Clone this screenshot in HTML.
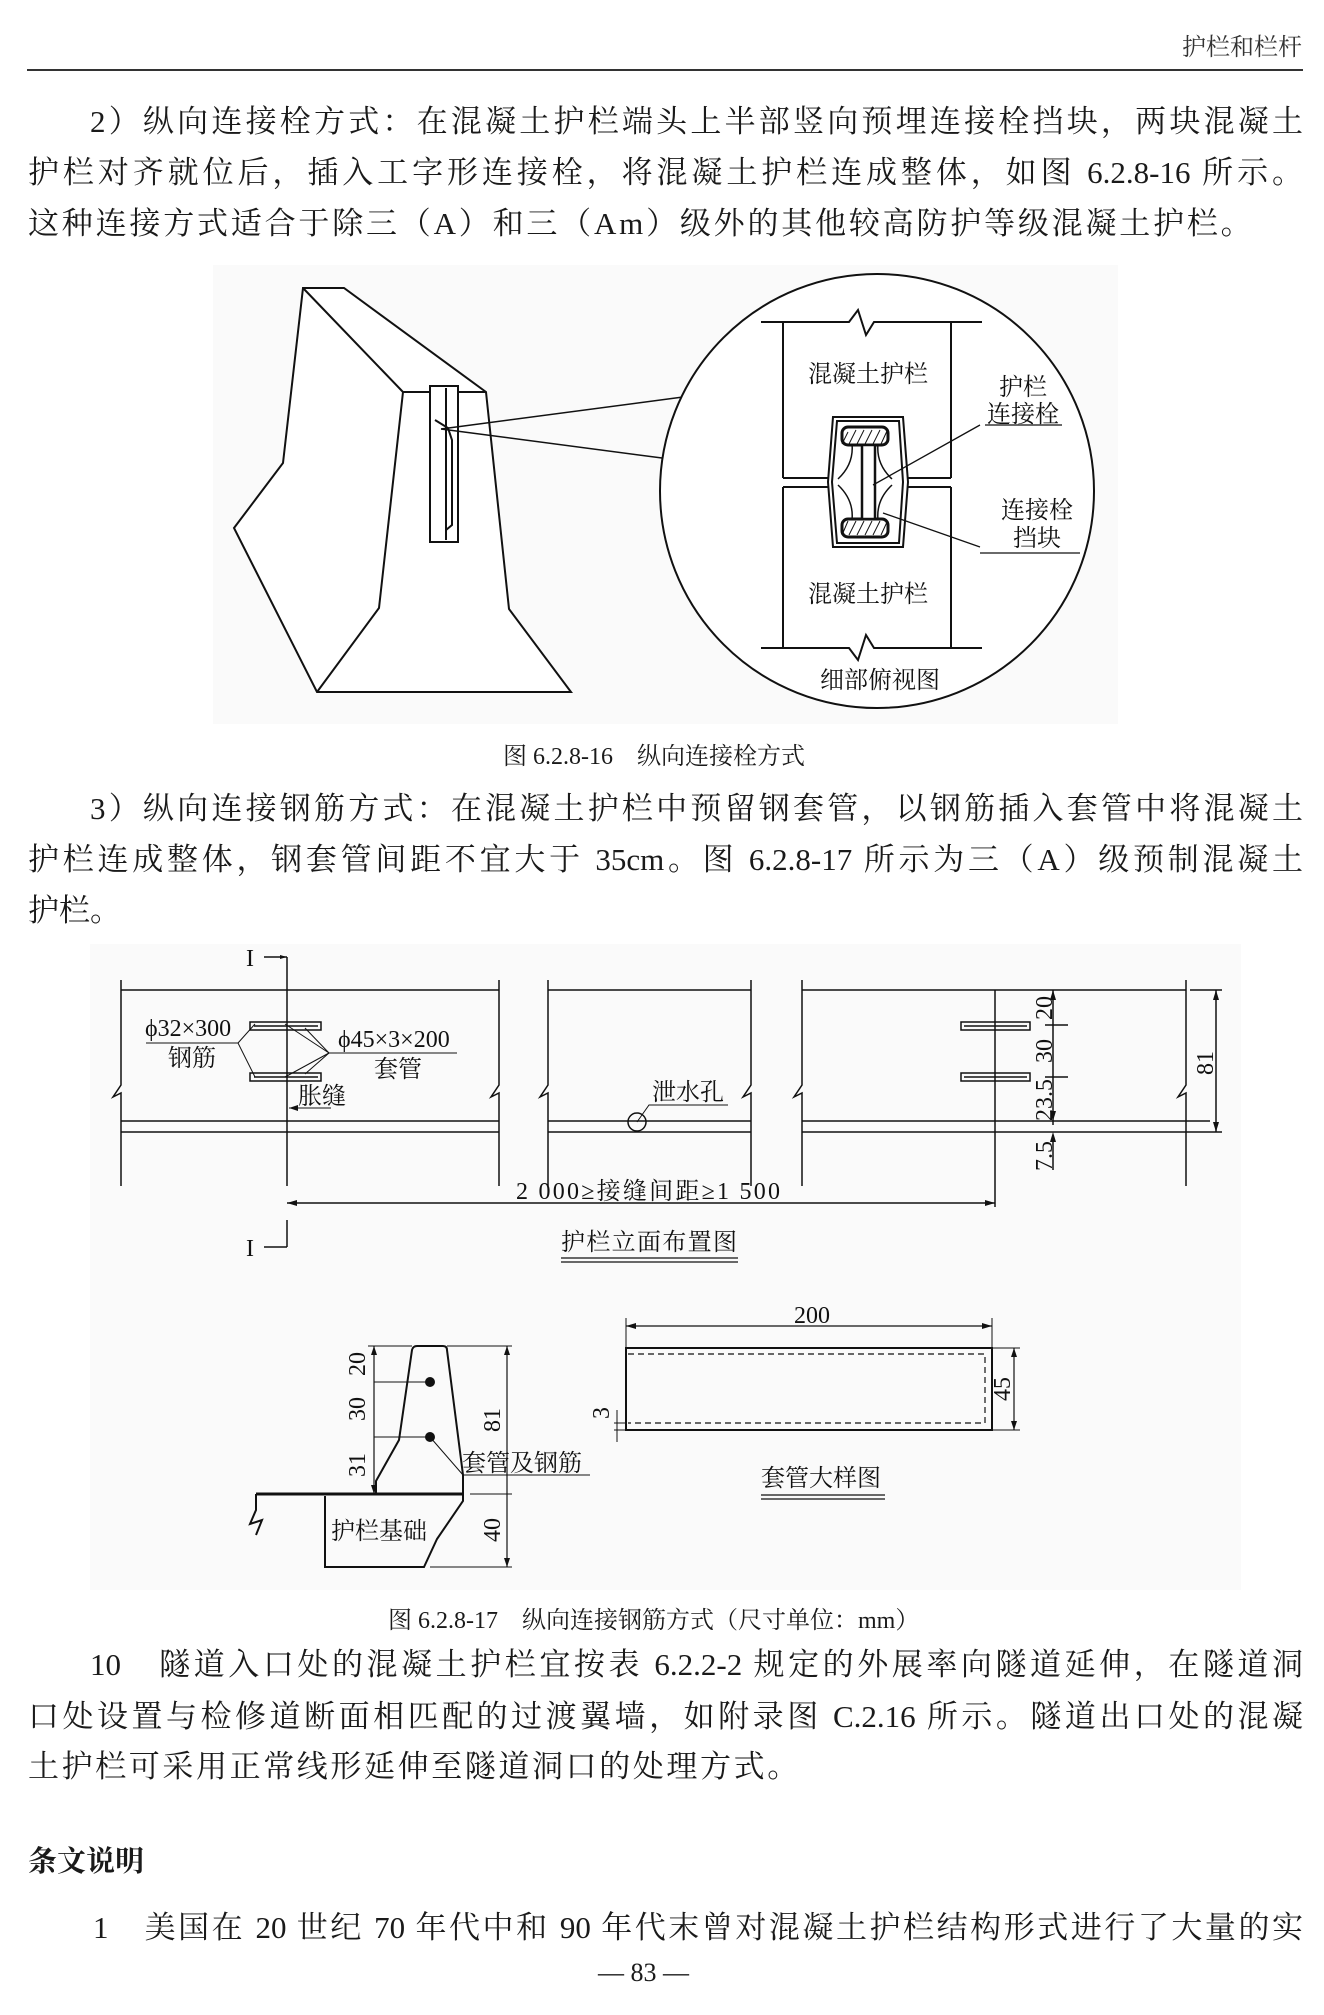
<!DOCTYPE html>
<html><head><meta charset="utf-8">
<style>
html,body{margin:0;padding:0;background:#fff;}
body{width:1324px;height:2015px;position:relative;overflow:hidden;font-family:"Liberation Serif","Noto Serif CJK SC",serif;color:#1a1a1a;}
.l{position:absolute;left:28px;width:1275px;height:40px;line-height:40px;font-size:31px;white-space:nowrap;}
.j{text-align:justify;text-align-last:justify;}
.c{position:absolute;font-size:24px;white-space:nowrap;}
svg{position:absolute;left:0;top:0;}
svg text{font-family:"Liberation Serif","Noto Serif CJK SC",serif;fill:#111;}
</style></head><body>
<div class="c" style="right:22px;top:27px;font-size:24px;color:#333">护栏和栏杆</div>
<div style="position:absolute;left:27px;top:69px;width:1276px;height:1.5px;background:#333"></div>

<div class="l j" style="top:102px;padding-left:62px;width:1213px">2）纵向连接栓方式：在混凝土护栏端头上半部竖向预埋连接栓挡块，两块混凝土</div>
<div class="l j" style="top:153px">护栏对齐就位后，插入工字形连接栓，将混凝土护栏连成整体，如图 6.2.8-16 所示。</div>
<div class="l" style="top:204px;letter-spacing:2.8px">这种连接方式适合于除三（A）和三（Am）级外的其他较高防护等级混凝土护栏。</div>

<div class="c" style="left:503px;top:736px">图 6.2.8-16　纵向连接栓方式</div>

<div class="l j" style="top:789px;padding-left:62px;width:1213px">3）纵向连接钢筋方式：在混凝土护栏中预留钢套管，以钢筋插入套管中将混凝土</div>
<div class="l j" style="top:840px">护栏连成整体，钢套管间距不宜大于 35cm。图 6.2.8-17 所示为三（A）级预制混凝土</div>
<div class="l" style="top:891px">护栏。</div>

<div class="c" style="left:388px;top:1600px">图 6.2.8-17　纵向连接钢筋方式（尺寸单位：mm）</div>

<div class="l j" style="top:1645px;padding-left:62px;width:1213px">10　隧道入口处的混凝土护栏宜按表 6.2.2-2 规定的外展率向隧道延伸，在隧道洞</div>
<div class="l j" style="top:1697px">口处设置与检修道断面相匹配的过渡翼墙，如附录图 C.2.16 所示。隧道出口处的混凝</div>
<div class="l" style="top:1747px;letter-spacing:2.6px">土护栏可采用正常线形延伸至隧道洞口的处理方式。</div>
<div class="l" style="top:1842px;font-weight:bold;font-size:29px">条文说明</div>
<div class="l j" style="top:1908px;padding-left:65px;width:1210px">1　美国在 20 世纪 70 年代中和 90 年代末曾对混凝土护栏结构形式进行了大量的实</div>
<div class="c" style="left:598px;top:1958px;font-size:26px">— 83 —</div>

<svg width="1324" height="2015" viewBox="0 0 1324 2015">
<rect x="213" y="265" width="905" height="459" fill="#fafafa"/>
<rect x="90" y="944" width="1151" height="646" fill="#fafafa"/>
<g fill="none" stroke="#111" stroke-width="2">
<polygon points="303,288 344,288 486,392 509,609 571,692 317,692 234,528 283,463" fill="#fff"/>
<polyline points="303,288 403,392 379,608 317,692"/>
<line x1="403" y1="392" x2="486" y2="392"/>
<rect x="430" y="386" width="28" height="156" fill="#fff"/>
<line x1="446" y1="388" x2="446" y2="540"/>
<polyline points="435,420 448,428 452,440 452,525 446,530"/>
<line x1="441" y1="429" x2="683" y2="397" stroke-width="1.5"/>
<line x1="441" y1="429" x2="662" y2="458" stroke-width="1.5"/>
<circle cx="877" cy="491" r="217" fill="#fff"/>
<polyline points="761,322 849,322 858,310 866,335 874,322 982,322"/>
<polyline points="761,648 849,648 858,660 866,635 874,648 982,648"/>
<line x1="783" y1="322" x2="783" y2="478"/><line x1="951" y1="322" x2="951" y2="478"/>
<line x1="783" y1="487" x2="783" y2="648"/><line x1="951" y1="487" x2="951" y2="648"/>
<line x1="783" y1="478" x2="828" y2="478"/><line x1="907" y1="478" x2="951" y2="478"/>
<line x1="783" y1="487" x2="828" y2="487"/><line x1="907" y1="487" x2="951" y2="487"/>
<polygon points="833,417 903,417 908,482 903,547 833,547 828,482" fill="#fff"/>
<polygon points="837,421 899,421 903,482 899,543 837,543 832,482"/>
<path d="M844,432 h42 v12 h-8 q-2,20 14,35 M844,432 v12 h8 q2,20 -14,35 M844,532 h42 v-12 h-8 q-2,-20 14,-35 M844,532 v-12 h8 q2,-20 -14,-35" stroke-width="1.5"/>
<rect x="842" y="427" width="46" height="18" rx="6" fill="#fff" stroke-width="3"/>
<rect x="842" y="519" width="46" height="18" rx="6" fill="#fff" stroke-width="3"/>
<rect x="862" y="445" width="13" height="74" fill="#fff" stroke-width="2.5"/>
<line x1="873" y1="485" x2="980" y2="425" stroke-width="1.3"/>
<line x1="883" y1="513" x2="980" y2="547" stroke-width="1.3"/>
<line x1="985" y1="425" x2="1062" y2="425" stroke-width="1.3"/>
<line x1="980" y1="553" x2="1080" y2="553" stroke-width="1.3"/>
</g>
<g stroke="#111" stroke-width="1">
<line x1="848" y1="432" x2="842" y2="444"/><line x1="856" y1="430" x2="849" y2="444"/><line x1="864" y1="430" x2="857" y2="444"/><line x1="872" y1="430" x2="865" y2="444"/><line x1="880" y1="430" x2="873" y2="444"/><line x1="887" y1="431" x2="881" y2="444"/>
<line x1="848" y1="521" x2="842" y2="535"/><line x1="856" y1="521" x2="849" y2="535"/><line x1="864" y1="521" x2="857" y2="535"/><line x1="872" y1="521" x2="865" y2="535"/><line x1="880" y1="521" x2="873" y2="535"/><line x1="887" y1="522" x2="881" y2="535"/>
</g>
<g font-size="24" text-anchor="middle">
<text x="868" y="382">混凝土护栏</text><text x="868" y="602">混凝土护栏</text>
<text x="1023" y="395">护栏</text><text x="1023" y="422">连接栓</text>
<text x="1037" y="518">连接栓</text><text x="1037" y="546">挡块</text>
<text x="880" y="688">细部俯视图</text>
</g>

<g fill="none" stroke="#111" stroke-width="1.5">
<line x1="121" y1="990" x2="499" y2="990"/><line x1="548" y1="990" x2="751" y2="990"/><line x1="802" y1="990" x2="1186" y2="990"/>
<line x1="121" y1="1121" x2="499" y2="1121"/><line x1="548" y1="1121" x2="751" y2="1121"/><line x1="802" y1="1121" x2="1210" y2="1121"/>
<line x1="121" y1="1132" x2="499" y2="1132"/><line x1="548" y1="1132" x2="751" y2="1132"/><line x1="802" y1="1132" x2="1222" y2="1132"/>
<polyline points="121,980 121,1085 113,1097 121,1093 121,1186"/>
<polyline points="499,980 499,1085 491,1097 499,1093 499,1186"/>
<polyline points="548,980 548,1085 540,1097 548,1093 548,1186"/>
<polyline points="751,980 751,1085 743,1097 751,1093 751,1186"/>
<polyline points="802,980 802,1085 794,1097 802,1093 802,1186"/>
<polyline points="1186,980 1186,1085 1178,1097 1186,1093 1186,1186"/>
<line x1="287" y1="957" x2="287" y2="1186"/><line x1="287" y1="1220" x2="287" y2="1247"/>
<line x1="264" y1="957" x2="287" y2="957"/><line x1="264" y1="1247" x2="287" y2="1247"/>
<line x1="995" y1="990" x2="995" y2="1207"/>
<line x1="287" y1="1203" x2="995" y2="1203"/>
<rect x="250" y="1022" width="71" height="8"/><line x1="254" y1="1026" x2="318" y2="1026"/>
<rect x="250" y="1073" width="71" height="8"/><line x1="254" y1="1077" x2="318" y2="1077"/>
<rect x="961" y="1022" width="69" height="8"/><line x1="964" y1="1026" x2="1027" y2="1026"/>
<rect x="961" y="1073" width="69" height="8"/><line x1="964" y1="1077" x2="1027" y2="1077"/>
<line x1="146" y1="1043" x2="238" y2="1043" stroke-width="1"/>
<polyline points="238,1043 255,1024" stroke-width="1"/><polyline points="238,1043 255,1077" stroke-width="1"/>
<line x1="329" y1="1053" x2="457" y2="1053" stroke-width="1"/>
<polyline points="329,1053 285,1024" stroke-width="1"/><polyline points="329,1053 305,1028" stroke-width="1"/>
<polyline points="329,1053 285,1077" stroke-width="1"/><polyline points="329,1053 305,1074" stroke-width="1"/>
<line x1="289" y1="1108" x2="331" y2="1108" stroke-width="1"/>
<circle cx="637" cy="1122" r="9"/>
<polyline points="637,1122 649,1105 728,1105" stroke-width="1"/>
<line x1="1053" y1="990" x2="1053" y2="1125"/><line x1="1053" y1="1140" x2="1053" y2="1170"/>
<line x1="1045" y1="1025" x2="1068" y2="1025"/><line x1="1045" y1="1077" x2="1068" y2="1077"/>
<line x1="1216" y1="990" x2="1216" y2="1132"/><line x1="1190" y1="990" x2="1222" y2="990"/>
</g>
<g fill="#111">
<polygon points="287,1203 297,1200 297,1206"/><polygon points="995,1203 985,1200 985,1206"/>
<polygon points="1216,990 1213,1000 1219,1000"/><polygon points="1216,1132 1213,1122 1219,1122"/>
<polygon points="1053,990 1050,1000 1056,1000"/><polygon points="1053,1121 1050,1111 1056,1111"/><polygon points="1053,1132 1050,1142 1056,1142"/>
<polygon points="289,1108 298,1105 298,1111"/>
<polygon points="287,957 280,955 280,959"/>
</g>
<g font-size="24">
<text x="246" y="966">I</text><text x="246" y="1256">I</text>
<text x="145" y="1036">ϕ32×300</text><text x="168" y="1066">钢筋</text>
<text x="338" y="1047">ϕ45×3×200</text><text x="374" y="1077">套管</text>
<text x="298" y="1104">胀缝</text>
<text x="652" y="1100">泄水孔</text>
<text x="516" y="1199" textLength="264">2 000≥接缝间距≥1 500</text>
<text x="561" y="1250" textLength="176">护栏立面布置图</text>
<text transform="translate(1052,1008) rotate(-90)" text-anchor="middle">20</text>
<text transform="translate(1052,1051) rotate(-90)" text-anchor="middle">30</text>
<text transform="translate(1052,1100) rotate(-90)" text-anchor="middle">23.5</text>
<text transform="translate(1052,1156) rotate(-90)" text-anchor="middle">7.5</text>
<text transform="translate(1213,1063) rotate(-90)" text-anchor="middle">81</text>
</g>
<g stroke="#111" stroke-width="1.2"><line x1="561" y1="1258" x2="738" y2="1258"/><line x1="561" y1="1262" x2="738" y2="1262"/></g>

<g fill="none" stroke="#111" stroke-width="2">
<path d="M376,1494 L376,1481 L399,1440 L412,1350 Q413,1346 417,1346 L443,1346 Q447,1346 447,1350 L463,1475 L463,1494"/>
<line x1="256" y1="1494" x2="463" y2="1494" stroke-width="3"/>
<polyline points="256,1494 256,1510 250,1524 262,1520 256,1535"/>
<polyline points="325,1496 325,1567 424,1567 437,1539 463,1501 463,1494"/>
<line x1="374" y1="1346" x2="374" y2="1494" stroke-width="1.2"/>
<line x1="368" y1="1346" x2="412" y2="1346" stroke-width="1"/>
<line x1="374" y1="1382" x2="430" y2="1382" stroke-width="1"/>
<line x1="374" y1="1437" x2="430" y2="1437" stroke-width="1"/>
<line x1="507" y1="1346" x2="507" y2="1567" stroke-width="1.2"/>
<line x1="447" y1="1346" x2="512" y2="1346" stroke-width="1"/>
<line x1="470" y1="1494" x2="512" y2="1494" stroke-width="1"/>
<line x1="430" y1="1567" x2="512" y2="1567" stroke-width="1"/>
<polyline points="430,1437 463,1475 590,1475" stroke-width="1"/>
<rect x="626" y="1348" width="366" height="82"/>
<polyline points="628,1354 985,1354 985,1423 628,1423" stroke-dasharray="6,4" stroke-width="1.2"/>
<line x1="626" y1="1326" x2="992" y2="1326" stroke-width="1.2"/>
<line x1="626" y1="1318" x2="626" y2="1348" stroke-width="1"/><line x1="992" y1="1318" x2="992" y2="1348" stroke-width="1"/>
<line x1="1014" y1="1348" x2="1014" y2="1430" stroke-width="1.2"/>
<line x1="992" y1="1348" x2="1020" y2="1348" stroke-width="1"/><line x1="992" y1="1430" x2="1020" y2="1430" stroke-width="1"/>
<line x1="614" y1="1423" x2="626" y2="1423" stroke-width="1"/><line x1="614" y1="1430" x2="626" y2="1430" stroke-width="1"/>
<line x1="617" y1="1410" x2="617" y2="1442" stroke-width="1"/>
</g>
<g fill="#111">
<circle cx="430" cy="1382" r="5"/><circle cx="430" cy="1437" r="5"/>
<polygon points="374,1346 371,1355 377,1355"/><polygon points="374,1494 371,1485 377,1485"/>
<polygon points="507,1346 504,1355 510,1355"/><polygon points="507,1567 504,1558 510,1558"/>
<polygon points="626,1326 636,1323 636,1329"/><polygon points="992,1326 982,1323 982,1329"/>
<polygon points="1014,1348 1011,1357 1017,1357"/><polygon points="1014,1430 1011,1421 1017,1421"/>
</g>
<g font-size="24">
<text transform="translate(365,1364) rotate(-90)" text-anchor="middle">20</text>
<text transform="translate(365,1409) rotate(-90)" text-anchor="middle">30</text>
<text transform="translate(365,1465) rotate(-90)" text-anchor="middle">31</text>
<text transform="translate(500,1420) rotate(-90)" text-anchor="middle">81</text>
<text transform="translate(500,1530) rotate(-90)" text-anchor="middle">40</text>
<text transform="translate(1010,1389) rotate(-90)" text-anchor="middle">45</text>
<text transform="translate(609,1413) rotate(-90)" text-anchor="middle">3</text>
<text x="462" y="1471">套管及钢筋</text>
<text x="331" y="1539">护栏基础</text>
<text x="794" y="1323">200</text>
<text x="761" y="1486">套管大样图</text>
</g>
<g stroke="#111" stroke-width="1.2"><line x1="761" y1="1495" x2="885" y2="1495"/><line x1="761" y1="1499" x2="885" y2="1499"/></g>
</svg>
</body></html>
